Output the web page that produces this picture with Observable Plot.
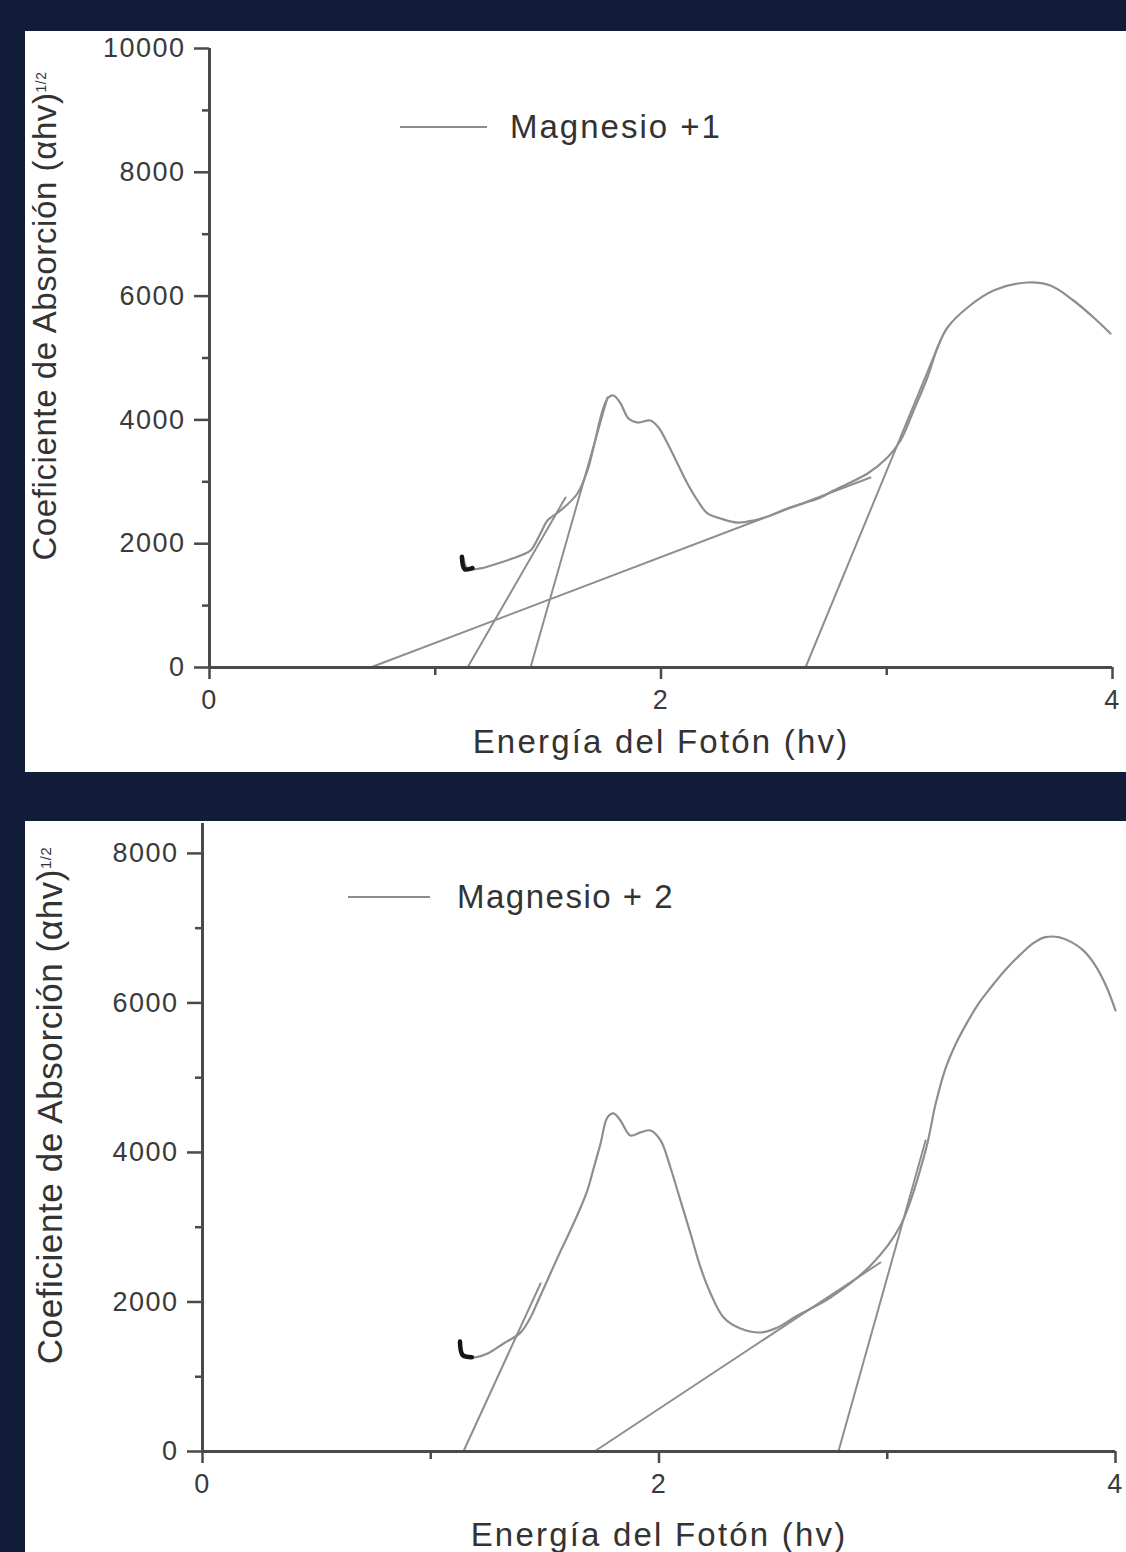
<!DOCTYPE html>
<html>
<head>
<meta charset="utf-8">
<script src="https://cdn.jsdelivr.net/npm/d3@7"></script>
<script src="https://cdn.jsdelivr.net/npm/@observablehq/plot@0.6"></script>
<style>
  html, body { margin: 0; padding: 0; background: #111c38; width: 1126px; height: 1552px; overflow: hidden;
    font-family: "Liberation Sans", Arial, sans-serif; }
  .panel { position: absolute; background: #fff; overflow: hidden; }
  #p1 { left: 25px; top: 31px; width: 1101px; height: 741px; }
  #p2 { left: 25px; top: 821px; width: 1101px; height: 731px; }
  .panel svg { position: absolute; left: 0; top: 0; }
  .legend { position: absolute; display: flex; align-items: center; color: #333; font-size: 33px;
    line-height: 36px; white-space: nowrap; z-index: 2; }
  .legend .swatch { display: inline-block; height: 2px; background: #8c8c8c; }
</style>
</head>
<body>
<div class="panel" id="p1">
  <div class="legend" id="lg1" style="left:375px; top:78px; letter-spacing:2px;"><span class="swatch" style="width:87px; margin-right:23px;"></span><span id="lg1text"></span></div>
</div>
<div class="panel" id="p2">
  <div class="legend" id="lg2" style="left:323px; top:58px; letter-spacing:1.5px;"><span class="swatch" style="width:82px; margin-right:27px;"></span><span id="lg2text"></span></div>
</div>
<script>
// ---------- shared axis values ----------
const xTickValues = [0, 2, 4];
const xMinorTickValues = [1, 3];
const xLabel = "Energía del Fotón (hv)";
const yLabel = "Coeficiente de Absorción (αhv)";
const yLabelExponent = "1/2";

// ---------- panel 1: Magnesio +1 ----------
const mg1Name = "Magnesio +1";
const mg1YTicks = [0, 2000, 4000, 6000, 8000, 10000];
const mg1YMinorTicks = [1000, 3000, 5000, 7000, 9000];
const mg1Energy = [1.125, 1.143, 1.200, 1.289, 1.378, 1.422, 1.466, 1.497, 1.555, 1.630, 1.674, 1.701, 1.741, 1.767, 1.790,
  1.821, 1.856, 1.896, 1.953, 1.989, 2.029, 2.073, 2.117, 2.162, 2.206, 2.264, 2.339, 2.410, 2.485, 2.560, 2.707, 2.764,
  2.915, 3.003, 3.061, 3.119, 3.180, 3.225, 3.269, 3.358, 3.473, 3.623, 3.725, 3.827, 3.916, 3.991];
const mg1Coef = [1760, 1600, 1600, 1696, 1809, 1890, 2165, 2375, 2536, 2811, 3183, 3554, 4152, 4362, 4394,
  4265, 4023, 3958, 3990, 3877, 3619, 3296, 2973, 2698, 2488, 2407, 2342, 2375, 2456, 2569, 2746, 2859,
  3134, 3393, 3667, 4152, 4685, 5170, 5493, 5816, 6090, 6220, 6171, 5929, 5654, 5396];
const mg1HookEnergy = [1.118, 1.130, 1.165];
const mg1HookCoef = [1790, 1590, 1605];
const mg1TangentStartEnergy = [0.713, 1.143, 1.422, 2.640];
const mg1TangentEndEnergy = [2.928, 1.577, 1.763, 3.238];
const mg1TangentEndCoef = [3070, 2746, 4362, 5283];

// ---------- panel 2: Magnesio + 2 ----------
const mg2Name = "Magnesio + 2";
const mg2YTicks = [0, 2000, 4000, 6000, 8000];
const mg2YMinorTicks = [1000, 3000, 5000, 7000];
const mg2Energy = [1.130, 1.143, 1.187, 1.249, 1.319, 1.393, 1.437, 1.468, 1.511, 1.555, 1.612, 1.656, 1.687, 1.713, 1.744,
  1.774, 1.801, 1.831, 1.875, 1.919, 1.963, 2.007, 2.050, 2.094, 2.138, 2.182, 2.226, 2.283, 2.357, 2.445, 2.519, 2.607,
  2.751, 2.927, 3.058, 3.168, 3.212, 3.255, 3.300, 3.343, 3.400, 3.452, 3.520, 3.584, 3.640, 3.693, 3.750, 3.803,
  3.860, 3.912, 3.960, 4.000];
const mg2Coef = [1445, 1284, 1258, 1311, 1445, 1590, 1793, 2000, 2290, 2590, 2960, 3260, 3500, 3780, 4120,
  4468, 4522, 4428, 4227, 4268, 4294, 4161, 3799, 3358, 2916, 2462, 2114, 1793, 1645, 1592, 1659, 1819,
  2060, 2488, 3023, 4027, 4650, 5120, 5450, 5700, 5990, 6200, 6450, 6650, 6800, 6880, 6880, 6820,
  6700, 6500, 6220, 5900];
const mg2HookEnergy = [1.128, 1.140, 1.180];
const mg2HookCoef = [1470, 1290, 1262];
const mg2TangentStartEnergy = [1.143, 1.717, 2.786];
const mg2TangentEndEnergy = [1.481, 2.970, 3.168];
const mg2TangentEndCoef = [2247, 2528, 4160];

const axisColor = "#4a4a4a";
const lineColor = "#8e8e8e";

function drawPanel(el, cfg) {
  const curve = cfg.energy.map((x, i) => ({x, y: cfg.coef[i]}));
  const hook = cfg.hookEnergy.map((x, i) => ({x, y: cfg.hookCoef[i]}));
  const tangents = cfg.tStart.flatMap((x0, i) => [
    {id: i, x: x0, y: 0},
    {id: i, x: cfg.tEnd[i], y: cfg.tEndCoef[i]}
  ]);
  const svg = Plot.plot({
    width: cfg.width,
    height: cfg.height,
    marginLeft: cfg.mL, marginRight: cfg.mR, marginTop: cfg.mT, marginBottom: cfg.mB,
    x: {domain: [0, 4]},
    y: {domain: cfg.yDomain},
    style: {background: "transparent", fontFamily: '"Liberation Sans", Arial, sans-serif', fontSize: "27px", color: "#3a3a3a", overflow: "visible"},
    marks: [
      Plot.line(tangents, {x: "x", y: "y", z: "id", stroke: lineColor, strokeWidth: 2}),
      Plot.line(curve, {x: "x", y: "y", curve: "catmull-rom", stroke: lineColor, strokeWidth: 2.2}),
      Plot.line(hook, {x: "x", y: "y", curve: "catmull-rom", stroke: "#151515", strokeWidth: 4.5}),
      Plot.ruleX([0], {stroke: axisColor, strokeWidth: 3}),
      Plot.ruleY([0], {stroke: axisColor, strokeWidth: 3}),
      Plot.axisY(cfg.yTicks, {tickSize: 15, tickPadding: 9, tickFormat: d3.format("d"), label: null, fontSize: 27, stroke: axisColor, strokeWidth: 2.5}),
      Plot.axisY(cfg.yMinor, {tickSize: 7, tickFormat: () => "", label: null, stroke: axisColor, strokeWidth: 2.5}),
      Plot.axisX(xTickValues, {tickSize: 12, tickPadding: 10, tickFormat: d3.format("d"), label: null, fontSize: 27, stroke: axisColor, strokeWidth: 2.5}),
      Plot.axisX(xMinorTickValues, {tickSize: 8, tickFormat: () => "", label: null, stroke: axisColor, strokeWidth: 2.5}),
      Plot.text([xLabel], {frameAnchor: "bottom", textAnchor: "middle", dy: cfg.xLabelDy, text: d => d, fontSize: 33, fill: "#333"}),
      Plot.text([yLabel], {frameAnchor: "left", textAnchor: "middle", rotate: -90, dx: cfg.yLabelDx, dy: cfg.yLabelDy, text: d => d, fontSize: cfg.yLabelSize, fill: "#333"})
    ]
  });
  const s = d3.select(svg);
  s.selectAll('g[aria-label$="tick label"] text').attr("letter-spacing", 1.5);
  s.selectAll("text").filter(function () { return this.textContent === xLabel; }).attr("letter-spacing", 2.2);
  s.selectAll("text").filter(function () { return this.textContent === yLabel; })
    .attr("letter-spacing", 0.6)
    .append("tspan").attr("dy", "-0.7em").attr("font-size", "0.42em").text(yLabelExponent);
  el.appendChild(svg);
}

drawPanel(document.getElementById("p1"), {
  width: 1101, height: 741, mL: 184, mR: 14, mT: 17, mB: 105,
  yDomain: [0, 10000], yTicks: mg1YTicks, yMinor: mg1YMinorTicks,
  energy: mg1Energy, coef: mg1Coef, hookEnergy: mg1HookEnergy, hookCoef: mg1HookCoef,
  tStart: mg1TangentStartEnergy, tEnd: mg1TangentEndEnergy, tEndCoef: mg1TangentEndCoef,
  xLabelDy: 85, yLabelDx: -164, yLabelDy: -42, yLabelSize: 33
});
drawPanel(document.getElementById("p2"), {
  width: 1101, height: 731, mL: 177, mR: 11, mT: 2, mB: 101,
  yDomain: [0, 8400], yTicks: mg2YTicks, yMinor: mg2YMinorTicks,
  energy: mg2Energy, coef: mg2Coef, hookEnergy: mg2HookEnergy, hookCoef: mg2HookCoef,
  tStart: mg2TangentStartEnergy, tEnd: mg2TangentEndEnergy, tEndCoef: mg2TangentEndCoef,
  xLabelDy: 94, yLabelDx: -152, yLabelDy: -32, yLabelSize: 35
});
document.getElementById("lg1text").textContent = mg1Name;
document.getElementById("lg2text").textContent = mg2Name;
</script>
</body>
</html>
